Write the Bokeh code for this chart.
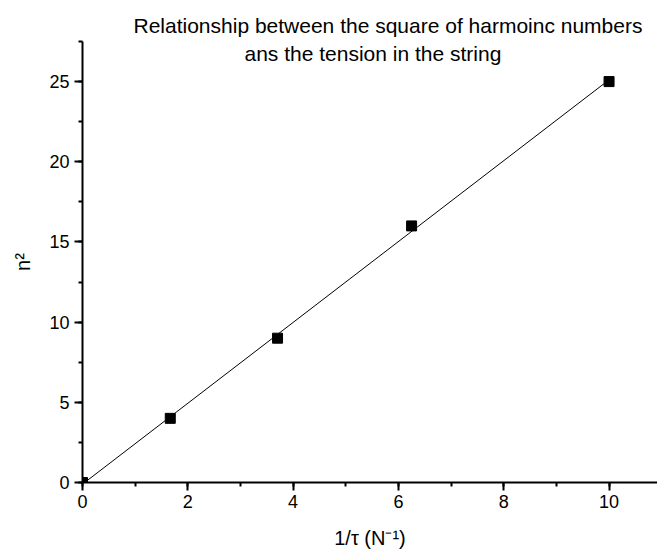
import numpy as np
from bokeh.plotting import figure
from bokeh.models import Label, Range1d, SingleIntervalTicker
from bokeh.embed import file_html
from bokeh.resources import INLINE

# Measured data: inverse tension (1/τ, N^-1) against square of harmonic number
inv_tension = [0.0, 1.667, 3.704, 6.25, 10.0]
n_squared = [0, 4, 9, 16, 25]

# Linear fit drawn across the measured range
slope, intercept = np.polyfit(inv_tension, n_squared, 1)
fit_x = [min(inv_tension), max(inv_tension)]
fit_y = [slope * v + intercept for v in fit_x]

FONT = "Liberation Sans"
W, H = 657, 560
LEFT, RIGHT, TOP, BOTTOM = 82, 657, 41, 482
X_END, Y_END = 10.92, 27.5

p = figure(
    width=W, height=H,
    x_range=Range1d(0, X_END), y_range=Range1d(0, Y_END),
    min_border_left=LEFT, min_border_right=W - RIGHT,
    min_border_top=TOP, min_border_bottom=H - BOTTOM,
    output_backend="svg", toolbar_location=None,
    background_fill_color="white", border_fill_color="white",
    title="Relationship between the square of harmoinc numbers",
)
p.outline_line_color = None
p.grid.visible = False

# first title line sits above the frame
p.title.align = "left"
p.title.offset = 51
p.title.standoff = 10
p.title.text_font = FONT
p.title.text_font_size = "21px"
p.title.text_font_style = "normal"
p.title.text_color = "black"

p.xaxis.ticker = SingleIntervalTicker(interval=2, num_minor_ticks=2)
p.yaxis.ticker = SingleIntervalTicker(interval=5, num_minor_ticks=2)
for ax in (p.xaxis, p.yaxis):
    ax.axis_line_width = 2
    ax.major_tick_line_width = 2
    ax.minor_tick_line_width = 2
    ax.major_tick_out = 8
    ax.major_tick_in = 0
    ax.minor_tick_out = 4
    ax.minor_tick_in = 0
    ax.major_label_text_font = FONT
    ax.major_label_text_font_size = "18px"
    ax.major_label_text_color = "black"
    ax.axis_line_color = "black"
    ax.major_tick_line_color = "black"
    ax.minor_tick_line_color = "black"
    ax.axis_label_text_font = FONT
    ax.axis_label_text_font_size = "20px"
    ax.axis_label_text_font_style = "normal"
    ax.axis_label_text_color = "black"
p.xaxis.major_label_standoff = 4
p.yaxis.major_label_standoff = 5
p.xaxis.axis_label = "1/\u03c4 (N\u207b\u00b9)"
p.yaxis.axis_label = "n\u00b2"
p.xaxis.axis_label_standoff = 16
p.yaxis.axis_label_standoff = 12

p.line(fit_x, fit_y, line_color="black", line_width=1)
p.scatter(inv_tension, n_squared, marker="square", size=10,
          fill_color="black", line_color="black")


def dx(px):
    return X_END * (px - LEFT) / (RIGHT - LEFT)


def dy(py):
    return Y_END * (BOTTOM - py) / (BOTTOM - TOP)


# second title line, just inside the top of the frame
p.add_layout(Label(
    x=dx(244), y=dy(53), text="ans the tension in the string",
    text_font=FONT, text_font_size="21px", text_color="black",
    text_align="left", text_baseline="alphabetic",
))

open("out.html", "w").write(file_html(p, INLINE))
